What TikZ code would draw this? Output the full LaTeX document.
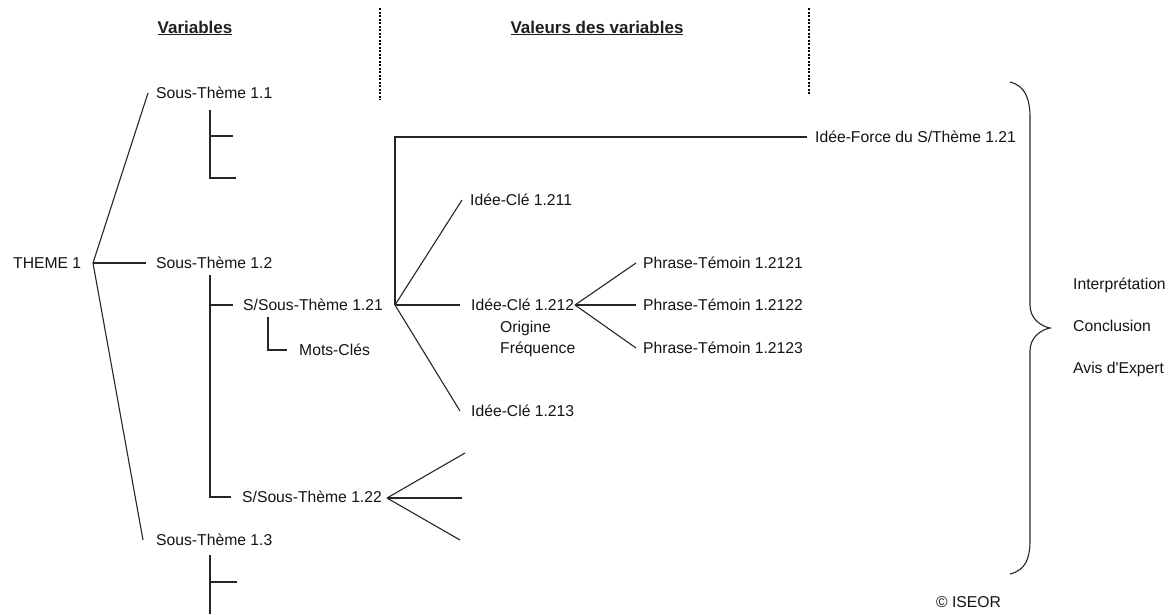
\documentclass[tikz,border=0pt]{standalone}
\usepackage{fontspec}
\setmainfont{Liberation Sans}[Ligatures=TeXOff]
\begin{document}
\begin{tikzpicture}[x=1pt,y=-1pt,
  txt/.style={font=\fontsize{15.7}{18}\selectfont, inner sep=0pt, anchor=west, text height=11pt, text depth=0pt, text=black!92},
  head/.style={font=\fontsize{17}{20}\selectfont\bfseries, inner sep=0pt, anchor=center, text=black!88},
  ln/.style={line width=1.1pt, draw=black!85},
  dots/.style={line width=2.6pt, draw=black, dash pattern=on 2pt off 1.5pt}]
\useasboundingbox (0,0) rectangle (1174,614);
\fill[white] (0,0) rectangle (1174,614);

% headers
\node[head] (hv) at (195,28) {\underline{Variables}};
\node[head] (hval) at (597,28) {\underline{Valeurs des variables}};
\coordinate (d1a) at (380,8); \coordinate (d1b) at (380,100);
\coordinate (d2a) at (809,8); \coordinate (d2b) at (809,95);
\draw[dots] (d1a) -- (d1b);
\draw[dots] (d2a) -- (d2b);

% nodes
\node[txt] (th) at (13,263) {THEME 1};
\node[txt] (st11) at (156,93) {Sous-Thème 1.1};
\node[txt] (st12) at (156,263) {Sous-Thème 1.2};
\node[txt] (st13) at (156,540) {Sous-Thème 1.3};
\node[txt] (ss121) at (243,305) {S/Sous-Thème 1.21};
\node[txt] (ss122) at (242,497) {S/Sous-Thème 1.22};
\node[txt] (mc) at (299,350) {Mots-Clés};
\node[txt] (if) at (815,137) {Idée-Force du S/Thème 1.21};
\node[txt] (ic211) at (470,200) {Idée-Clé 1.211};
\node[txt] (ic212) at (471,305) {Idée-Clé 1.212};
\node[txt] (ic213) at (471,411) {Idée-Clé 1.213};
\node[txt] (ori) at (500,327) {Origine};
\node[txt] (freq) at (500,348) {Fréquence};
\node[txt] (pt1) at (643,263) {Phrase-Témoin 1.2121};
\node[txt] (pt2) at (643,305) {Phrase-Témoin 1.2122};
\node[txt] (pt3) at (643,348) {Phrase-Témoin 1.2123};
\node[txt] (interp) at (1073,284) {Interprétation};
\node[txt] (concl) at (1073,326) {Conclusion};
\node[txt] (avis) at (1073,368) {Avis d'Expert};
\node[txt] (iseor) at (936,602) {© ISEOR};

% junctions
\coordinate (j0) at (93,263);
\coordinate (j121) at (395,305);
\coordinate (c121) at (395,137);
\coordinate (j212) at (575,305);
\coordinate (j122) at (387,498);

% theme 1
\draw[ln] ([xshift=-8pt]st11.west) -- (j0) -- ([xshift=-13pt]st13.west);
\draw[ln] (j0) -- ([xshift=-10pt]st12.west);

% sous-theme 1.1 stubs
\coordinate (a1) at (210,110); \coordinate (a2) at (233,136); \coordinate (a3) at (236,178);
\draw[ln] (a1) |- (a3);
\draw[ln] (a2) -- (a1 |- a2);

% sous-theme 1.2
\coordinate (b1) at (210,275);
\draw[ln] (b1) |- ([xshift=-11pt]ss122.west);
\draw[ln] ([xshift=-10pt]ss121.west) -- (b1 |- ss121.west);
\coordinate (m1) at (268,317);
\draw[ln] (m1) |- ([xshift=-12pt]mc.west);

% S/Sous-theme 1.21
\draw[ln] (j121) -- (c121) -- ([xshift=-8pt]if.west);
\draw[ln] (j121) -- ([xshift=-8pt]ic211.west);
\draw[ln] (j121) -- ([xshift=-11pt]ic212.west);
\draw[ln] (j121) -- ([xshift=-11pt]ic213.west);

% Idee-cle 1.212
\draw[ln] (j212) -- ([xshift=-7pt]pt1.west);
\draw[ln] (j212) -- ([xshift=-7pt]pt2.west);
\draw[ln] (j212) -- ([xshift=-7pt]pt3.west);

% S/Sous-theme 1.22
\coordinate (e1) at (465,453); \coordinate (e2) at (462,498); \coordinate (e3) at (460,540);
\draw[ln] (j122) -- (e1);
\draw[ln] (j122) -- (e2);
\draw[ln] (j122) -- (e3);

% sous-theme 1.3
\coordinate (f1) at (210,555); \coordinate (f2) at (210,614); \coordinate (f3) at (237,582);
\draw[ln] (f1) -- (f2);
\draw[ln] (f3) -- (f1 |- f3);

% brace
\draw[ln] (1010,82) .. controls (1026,86) and (1030,100) .. (1030,118)
  -- (1030,305) .. controls (1030,318) and (1040,326) .. (1050,328)
  .. controls (1040,330) and (1030,338) .. (1030,351)
  -- (1030,540) .. controls (1030,558) and (1026,570) .. (1010,574);
\end{tikzpicture}
\end{document}
